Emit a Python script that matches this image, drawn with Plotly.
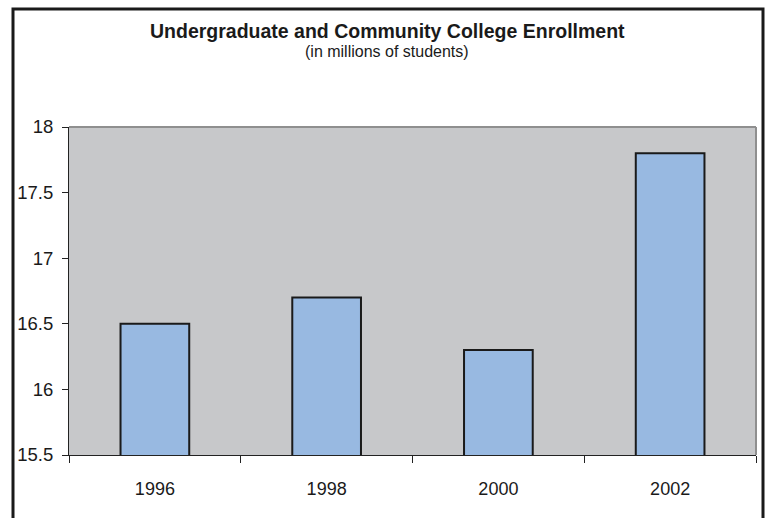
import plotly.graph_objects as go

years = ["1996", "1998", "2000", "2002"]
enrollment = [16.5, 16.7, 16.3, 17.8]
y_ticks = [15.5, 16, 16.5, 17, 17.5, 18]
y_tick_labels = ["15.5", "16", "16.5", "17", "17.5", "18"]

title_text = "Undergraduate and Community College Enrollment"
subtitle_text = "(in millions of students)"

FONT = "Liberation Sans, Arial, sans-serif"

fig = go.Figure(
    go.Bar(
        x=years,
        y=enrollment,
        width=0.4,
        marker=dict(color="#98B9E1", line=dict(color="#1a1a1a", width=2)),
    )
)

W, H = 768, 518
L, R, T, B = 69, 12, 127, 63
pw, ph = W - L - R, H - T - B


def px_x(x):
    return (x - L) / pw


def px_y(y):
    return (H - B - y) / ph


fig.update_layout(
    width=W,
    height=H,
    margin=dict(l=L, r=R, t=T, b=B),
    paper_bgcolor="white",
    plot_bgcolor="#C7C8CA",
    showlegend=False,
    font=dict(family=FONT, color="#1a1a1a"),
    xaxis=dict(
        type="category",
        tickson="boundaries",
        ticks="outside",
        ticklen=7,
        tickcolor="#222",
        tickwidth=1,
        showline=True,
        linecolor="#222",
        linewidth=1,
        showgrid=False,
        tickfont=dict(size=18, family=FONT, color="#1a1a1a"),
        ticklabelstandoff=17,
    ),
    yaxis=dict(
        range=[15.5, 18],
        tickvals=y_ticks,
        ticktext=y_tick_labels,
        ticks="outside",
        ticklen=6,
        tickcolor="#222",
        tickwidth=1,
        showline=True,
        linecolor="#222",
        linewidth=1,
        showgrid=False,
        zeroline=False,
        tickfont=dict(size=18.5, family=FONT, color="#1a1a1a"),
        ticklabelstandoff=5,
    ),
    shapes=[
        # plot area top/right gray border
        dict(type="line", xref="paper", yref="paper", x0=0, x1=1, y0=1, y1=1,
             line=dict(color="#8f8f8f", width=2)),
        dict(type="line", xref="paper", yref="paper", x0=1, x1=1, y0=0, y1=1,
             line=dict(color="#8f8f8f", width=2)),
        # outer chart border
        dict(type="rect", xref="paper", yref="paper",
             x0=px_x(13), x1=px_x(763), y0=px_y(530), y1=px_y(9),
             line=dict(color="#1a1a1a", width=3), layer="below"),
    ],
    annotations=[
        dict(text="<b>" + title_text + "</b>", xref="paper", yref="paper",
             x=px_x(387), y=px_y(31), showarrow=False, xanchor="center", yanchor="middle",
             font=dict(size=19.5, family=FONT, color="#1a1a1a")),
        dict(text=subtitle_text, xref="paper", yref="paper",
             x=px_x(387), y=px_y(52), showarrow=False, xanchor="center", yanchor="middle",
             font=dict(size=16, family=FONT, color="#1a1a1a")),
    ],
)

fig.write_html("out.html")
